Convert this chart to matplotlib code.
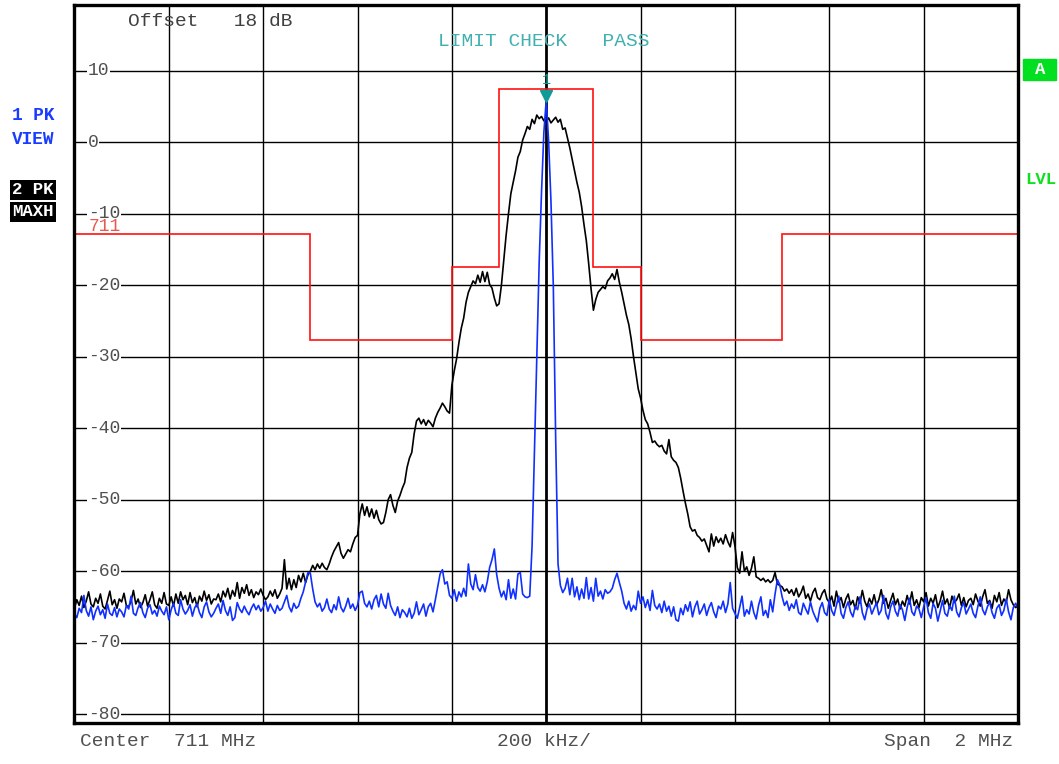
import numpy as np
import matplotlib.pyplot as plt
from matplotlib.patches import Rectangle
from matplotlib.transforms import offset_copy

plt.rcParams['font.family'] = ['Liberation Mono', 'DejaVu Sans Mono']

# sweep 710..712 MHz, 401 points (5 kHz per point)
freq = np.linspace(710.0, 712.0, 401)

# trace 2, max hold (one row per 100 kHz)
maxh_db = [
    -65.2, -64.0, -64.8, -63.5, -65.1, -64.2, -62.9, -64.6, -65.0, -63.8, -64.5, -63.2, -64.9, -65.3, -64.1, -62.8, -64.7, -64.0, -65.2, -63.9,
    -64.3, -63.1, -64.8, -65.0, -64.2, -62.7, -64.6, -63.9, -65.1, -64.4, -63.3, -64.9, -64.0, -62.9, -64.7, -65.2, -63.8, -64.5, -63.0, -64.6,
    -64.8, -63.6, -64.9, -63.2, -64.5, -62.9, -64.0, -63.4, -64.7, -63.0, -64.4, -63.7, -65.0, -63.5, -64.2, -62.8, -64.1, -63.3, -64.6, -63.9,
    -64.0, -63.2, -64.3, -62.8, -63.6, -62.4, -63.9, -62.7, -63.5, -61.6, -63.8, -62.3, -63.1, -61.9, -63.4, -62.6, -63.7, -62.9, -63.3, -62.5,
    -63.4, -64.0, -63.6, -62.8, -63.5, -62.6, -63.8, -63.2, -62.4, -58.4, -62.5, -61.0, -62.6, -61.2, -62.3, -60.6, -61.5, -60.3, -61.6, -60.5,
    -60.0, -59.2, -59.8, -59.0, -59.6, -58.9, -59.5, -59.8, -59.0, -58.0, -57.2, -56.6, -56.0, -57.5, -58.2, -57.6, -57.0, -57.3, -56.2, -55.3,
    -55.0, -52.0, -50.6, -52.2, -51.0, -52.4, -51.3, -52.6, -51.5, -52.8, -53.4, -53.2, -51.8, -50.0, -49.3, -50.8, -51.8, -50.2, -49.4, -48.4,
    -47.6, -45.5, -44.2, -43.4, -40.8, -39.0, -38.6, -39.4, -38.8, -39.6, -38.9, -39.3, -39.8, -38.6, -37.8, -37.2, -36.5, -37.0, -37.6, -37.9,
    -34.0, -32.0, -30.3, -28.0, -26.0, -24.6, -22.4, -21.0, -20.2, -19.4, -19.8, -18.6, -19.6, -18.1, -19.5, -18.2, -19.9, -20.4, -21.8, -22.9,
    -22.6, -20.0, -16.5, -13.0, -10.0, -7.2, -5.6, -4.0, -2.1, -1.3, 0.3, 1.2, 2.2, 1.8, 3.2, 2.6, 3.8, 3.3, 3.6, 3.0,
    2.9, 3.4, 2.7, 3.1, 3.5, 2.8, 3.2, 1.8, 2.0, 0.6, -0.8, -2.4, -4.0, -5.6, -7.0, -9.0, -11.5, -13.8, -17.0, -20.5,
    -23.5, -22.0, -21.0, -20.6, -20.2, -20.5, -19.4, -19.0, -18.4, -19.2, -17.8, -19.6, -21.0, -22.6, -24.2, -25.5, -27.5, -30.0, -32.2, -34.5,
    -35.8, -37.5, -38.8, -39.4, -40.6, -42.0, -41.8, -42.3, -42.6, -42.4, -43.2, -43.6, -41.6, -44.0, -44.5, -44.8, -45.5, -47.0, -48.8, -50.5,
    -52.0, -53.8, -54.4, -54.2, -55.0, -55.3, -55.8, -55.5, -56.4, -57.3, -54.8, -56.5, -55.2, -56.0, -55.4, -56.2, -54.9, -55.9, -56.6, -54.6,
    -56.5, -59.5, -60.3, -57.3, -60.0, -59.4, -60.6, -59.6, -58.0, -60.8, -61.0, -61.3, -61.0, -61.5, -61.2, -61.6, -61.3, -60.2, -61.8, -62.0,
    -62.2, -62.8, -62.5, -63.1, -62.6, -63.4, -62.4, -63.6, -63.0, -62.1, -63.8, -63.2, -64.2, -63.0, -62.4, -63.7, -64.0, -63.1, -62.6, -63.9,
    -64.4, -63.5, -64.9, -62.8, -64.3, -63.7, -65.1, -63.9, -63.2, -64.7, -64.1, -65.3, -63.6, -64.5, -62.7, -64.2, -65.0, -63.8, -64.6, -63.3,
    -64.8, -64.0, -62.6, -64.5, -63.8, -65.2, -64.1, -63.1, -64.7, -63.9, -65.3, -64.2, -64.9, -63.4, -64.6, -62.9, -64.8, -64.0, -65.1, -63.7,
    -64.3, -63.0, -64.9, -63.8, -64.5, -63.3, -65.1, -64.2, -62.8, -64.6, -63.9, -65.2, -63.5, -64.4, -64.0, -63.2, -64.8, -63.7, -65.0, -64.1,
    -63.8, -64.7, -63.2, -64.2, -64.9, -63.6, -62.6, -64.5, -64.1, -65.2, -63.4, -64.3, -63.0, -64.8, -63.9, -64.4, -62.6, -64.0, -64.7, -65.1,
    -64.9,
]

# trace 1, clear/write view
view_db = [
    -66.0, -66.5, -65.2, -65.8, -63.4, -65.5, -66.3, -65.0, -66.8, -65.6, -64.9, -66.1, -65.4, -66.6, -64.6, -65.9, -66.2, -65.1, -66.4, -65.3,
    -65.7, -66.4, -64.8, -65.3, -63.5, -65.9, -66.2, -65.1, -64.4, -65.8, -66.5, -65.2, -64.7, -66.0, -65.5, -66.3, -64.9, -65.6, -66.1, -65.0,
    -66.8, -65.4, -64.5, -65.9, -66.2, -64.0, -65.3, -66.0, -65.5, -64.7, -66.3, -65.1, -64.6, -65.8, -66.5, -65.0, -64.3, -65.7, -66.4, -65.9,
    -65.2, -64.6, -65.9, -64.1, -65.5, -66.2, -65.0, -66.9, -66.5, -64.4, -65.3, -65.8, -64.9, -65.6, -66.1, -65.2, -64.6, -65.4, -64.8, -65.6,
    -65.1, -64.2, -65.6, -64.6, -65.3, -65.9, -64.8, -65.5, -65.2, -64.3, -63.4, -65.0, -65.7, -64.5, -65.2, -64.9, -63.8, -62.9, -61.5, -60.2,
    -60.3, -62.5, -64.3, -65.0, -64.5, -65.6, -65.1, -63.9, -65.3, -65.8, -64.7, -65.4, -63.6, -65.1, -65.7, -64.9, -63.8, -65.2, -64.6, -65.5,
    -64.8, -63.0, -62.8, -64.5, -65.0, -64.2, -65.3, -64.0, -63.4, -65.0, -63.2, -64.6, -65.2, -63.1, -64.8, -65.6, -66.2, -65.0, -66.5, -65.4,
    -65.8, -66.4, -65.2, -66.6, -65.9, -64.3, -66.1, -65.4, -64.6, -66.3, -65.0, -64.5, -65.7, -64.0, -62.2, -60.4, -59.8, -61.8, -61.5, -63.4,
    -63.8, -62.6, -64.2, -62.9, -63.6, -62.4, -63.5, -59.0, -61.8, -62.6, -60.5, -62.3, -62.8, -61.9, -62.9, -61.5, -59.5, -58.4, -56.9, -60.5,
    -62.4, -63.6, -62.8, -64.0, -61.2, -63.8, -62.5, -63.9, -60.4, -60.2, -63.2, -63.6, -63.7, -63.5, -56.5, -43.2, -30.0, -16.9, -7.0, 1.4,
    5.9, 0.2, -8.2, -20.1, -41.4, -59.0, -62.0, -63.0, -62.4, -61.0, -63.3, -61.0, -63.6, -62.2, -64.0, -62.5, -63.8, -60.9, -63.9, -62.3,
    -64.2, -61.0, -63.5, -62.8, -63.9, -62.6, -63.1, -62.9, -62.4, -61.2, -60.3, -61.6, -62.8, -64.5, -65.3, -64.2, -65.6, -64.8, -65.4, -62.8,
    -64.5, -63.6, -65.1, -64.0, -65.5, -62.7, -64.8, -65.3, -64.6, -65.8, -64.2, -65.6, -64.9, -66.3, -65.0, -66.8, -67.0, -65.2, -66.1, -64.7,
    -65.6, -64.3, -66.4, -65.0, -64.2, -66.0, -65.4, -64.6, -66.2, -65.1, -64.4, -65.7, -66.5, -64.9, -65.3, -64.2, -65.8, -64.6, -61.6, -65.2,
    -65.9, -66.6, -65.1, -63.5, -66.3, -65.4, -66.0, -64.2, -65.8, -66.7, -64.8, -63.6, -66.2, -65.5, -66.5, -64.0, -65.7, -63.2, -61.2, -61.9,
    -63.6, -64.8, -64.2, -65.5, -64.6, -65.2, -64.0, -65.8, -66.1, -64.5, -65.3, -66.0, -64.3, -65.6, -66.4, -67.1, -65.2, -64.4, -65.8, -66.2,
    -64.0, -65.5, -66.2, -64.8, -63.5, -65.9, -66.6, -65.1, -64.3, -65.7, -66.4, -64.9, -65.4, -63.6, -65.8, -66.8, -65.3, -64.6, -66.0, -65.2,
    -64.4, -66.1, -65.5, -63.4, -65.9, -66.7, -65.0, -64.2, -65.6, -66.3, -64.7, -65.4, -66.9, -65.1, -63.8, -65.7, -66.2, -64.9, -65.3, -66.5,
    -65.0, -63.7, -65.8, -66.6, -64.5, -65.2, -67.0, -65.6, -64.1, -65.9, -66.3, -64.8, -65.5, -63.5, -65.7, -66.4, -65.1, -64.4, -66.0, -65.3,
    -64.6, -65.9, -66.5, -64.9, -63.6, -65.4, -66.1, -65.0, -64.3, -65.8, -66.6, -65.2, -64.7, -66.2, -65.5, -63.9, -65.7, -66.8, -65.1, -64.5,
    -65.2,
]

# limit line "711"
limit_edges = [710.0, 710.5, 710.8, 710.9, 711.1, 711.2, 711.5, 712.0]
limit_db = [-12.9, -27.6, -17.5, 7.4, -17.5, -27.6, -12.9]

level_ticks = [10, 0, -10, -20, -30, -40, -50, -60, -70, -80]
freq_grid = [710.2, 710.4, 710.6, 710.8, 711.2, 711.4, 711.6, 711.8]
center_freq = 711.0

marker_freq = 711.0
marker_db = 5.9

W, H = 1059, 764
fig = plt.figure(figsize=(W / 100, H / 100), dpi=100)
ax = fig.add_axes([0.0703, 0.0541, 0.8910, 0.9394])
ax.set_xlim(710.0, 712.0)
ax.set_ylim(-81.2, 19.2)
ax.set_xticks([])
ax.set_yticks([])
for s in ax.spines.values():
    s.set_linewidth(2.4)
    s.set_color('black')
    s.set_zorder(10)

# graticule
for f in freq_grid:
    ax.axvline(f, color='black', lw=1.0, zorder=1)
for v in level_ticks:
    ax.axhline(v, color='black', lw=1.0, zorder=1)
ax.axvline(center_freq, color='black', lw=2.0, zorder=1)

for v in level_ticks:
    ax.text(710.0286, v, str(v), ha='left', va='center', fontsize=13,
            color='#505050', zorder=3,
            bbox=dict(fc='white', ec='none', pad=0.4))

# limit line
ax.stairs(limit_db, limit_edges, color='#ff1010', lw=1.2, zorder=4)
ax.text(710.03, -11.8, '711', ha='left', va='center', fontsize=13,
        color='#e85a50', zorder=4)

# traces
ax.plot(freq, maxh_db, color='black', lw=1.2, zorder=5)
ax.plot(freq, view_db, color='#1030ff', lw=1.2, zorder=6)

# marker 1
mk_tr = offset_copy(ax.transData, fig=fig, x=0, y=4, units='dots')
ax.plot(marker_freq, marker_db, marker='v', ms=9, color='#109a98',
        mec='#109a98', transform=mk_tr, zorder=7)
ax.text(marker_freq, 8.7, '1', ha='center', va='center', fontsize=11,
        color='#109a98', zorder=7)

# screen annotations
def px(x, y):
    return x / W, 1 - y / H

fig.text(*px(128, 21), 'Offset   18 dB', ha='left', va='center',
         fontsize=14.0, color='#404040')
fig.text(*px(438, 42), 'LIMIT CHECK   PASS', ha='left', va='center',
         fontsize=14.0, color='#40b0b0')
fig.text(*px(80, 742), 'Center  711 MHz', ha='left', va='center',
         fontsize=14.0, color='#505050')
fig.text(*px(544, 742), '200 kHz/', ha='center', va='center',
         fontsize=14.0, color='#505050')
fig.text(*px(1013, 742), 'Span  2 MHz', ha='right', va='center',
         fontsize=14.0, color='#505050')

fig.text(*px(12, 116), '1 PK', ha='left', va='center',
         fontsize=12.8, fontweight='bold', color='#1a3cff')
fig.text(*px(12, 140), 'VIEW', ha='left', va='center',
         fontsize=12.8, fontweight='bold', color='#1a3cff')
fig.text(*px(12, 190), '2 PK', ha='left', va='center',
         fontsize=12.5, fontweight='bold', color='white',
         bbox=dict(fc='black', ec='none', pad=1.5))
fig.text(*px(12, 212), 'MAXH', ha='left', va='center',
         fontsize=12.5, fontweight='bold', color='white',
         bbox=dict(fc='black', ec='none', pad=1.5))

fig.patches.append(Rectangle(px(1023, 80), 33 / W, 21 / H, color='#00e020',
                             transform=fig.transFigure, figure=fig))
fig.text(*px(1040, 69.5), 'A', ha='center', va='center',
         fontsize=12.5, fontweight='bold', color='white')
fig.text(*px(1025, 179), 'LVL', ha='left', va='center',
         fontsize=12.5, fontweight='bold', color='#10e020')

fig.savefig('out.png', dpi=100)
